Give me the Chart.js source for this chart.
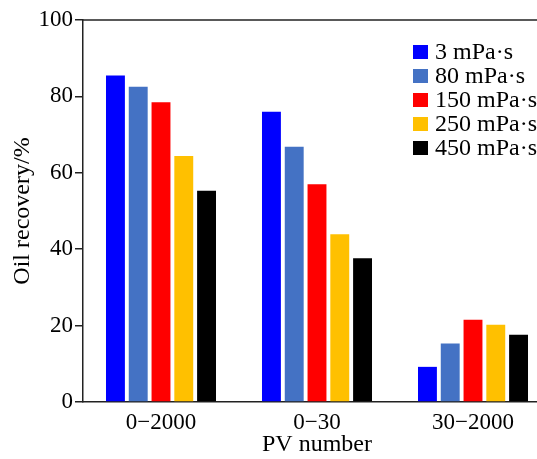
<!DOCTYPE html>
<html>
<head>
<meta charset="utf-8">
<script src="https://cdn.jsdelivr.net/npm/chart.js@4"></script>
<style>
  html, body { margin: 0; padding: 0; background: #fff; overflow: hidden; }
  #wrap { width: 570px; height: 459px; }
</style>
</head>
<body>
<div id="wrap"><canvas id="recoveryChart" width="570" height="459"></canvas></div>
<script>
var categories = ['0\u22122000', '0\u221230', '30\u22122000'];
var viscosityLabels = ['3 mPa\u00b7s', '80 mPa\u00b7s', '150 mPa\u00b7s', '250 mPa\u00b7s', '450 mPa\u00b7s'];
var visc3 = [85.5, 76.0, 9.2];
var visc80 = [82.5, 66.8, 15.3];
var visc150 = [78.5, 57.0, 21.5];
var visc250 = [64.4, 43.9, 20.2];
var visc450 = [55.3, 37.6, 17.6];
var barColors = ['#0000FF', '#4472C4', '#FF0000', '#FFC000', '#000000'];

var serif = '"Liberation Serif", "Times New Roman", serif';

// legend drawn inside the plot, top right, and the frame's top line
var boxLegend = {
    id: 'boxLegend',
    afterDraw: function (chart) {
        var c = chart.ctx;
        var area = chart.chartArea;
        c.save();
        c.strokeStyle = '#222';
        c.lineWidth = 1.5;
        c.beginPath();
        c.moveTo(area.left, area.top);
        c.lineTo(area.right, area.top);
        c.stroke();
        c.font = '24px ' + serif;
        c.textBaseline = 'middle';
        chart.data.datasets.forEach(function (ds, i) {
            var y = 52 + i * 24;
            c.fillStyle = ds.backgroundColor;
            c.fillRect(413, y - 7, 15, 14);
            c.fillStyle = '#000';
            c.fillText(ds.label, 435, y + 1);
        });
        c.restore();
    }
};

var data = [visc3, visc80, visc150, visc250, visc450];

function makeChart() {
    var ctx = document.getElementById('recoveryChart').getContext('2d');
    return new Chart(ctx, {
        type: 'bar',
        data: {
            labels: categories,
            datasets: viscosityLabels.map(function (lbl, i) {
                return {
                    label: lbl,
                    data: data[i],
                    backgroundColor: barColors[i],
                    borderWidth: 0,
                    categoryPercentage: 0.73,
                    barPercentage: 0.83
                };
            })
        },
        options: {
            responsive: false,
            animation: false,
            layout: { padding: { top: 20, right: 19, left: 0, bottom: 0 } },
            plugins: {
                legend: { display: false },
                tooltip: { enabled: false }
            },
            scales: {
                x: {
                    grid: { display: false, drawTicks: false },
                    border: { display: true, color: '#222', width: 1.5 },
                    ticks: {
                        color: '#000',
                        padding: 7,
                        font: { family: serif, size: 23 }
                    },
                    title: {
                        display: true,
                        text: 'PV number',
                        color: '#000',
                        padding: { top: 3, bottom: 0 },
                        font: { family: serif, size: 24 }
                    },
                    afterFit: function (s) { s.height = 57; }
                },
                y: {
                    min: 0,
                    max: 100,
                    grid: { display: true, drawOnChartArea: false, drawTicks: true, tickLength: 8, color: '#222', lineWidth: 1.5 },
                    border: { display: true, color: '#222', width: 1.5 },
                    ticks: {
                        stepSize: 20,
                        color: '#000',
                        padding: 2,
                        font: { family: serif, size: 23 }
                    },
                    title: {
                        display: true,
                        text: 'Oil recovery/%',
                        color: '#000',
                        padding: { top: 8, bottom: 0 },
                        font: { family: serif, size: 24 }
                    },
                    afterFit: function (s) { s.width = 83; }
                }
            }
        },
        plugins: [boxLegend]
    });
}

if (document.fonts && document.fonts.load) {
    document.fonts.load('24px "Liberation Serif"').then(makeChart, makeChart);
} else {
    makeChart();
}
</script>
</body>
</html>
